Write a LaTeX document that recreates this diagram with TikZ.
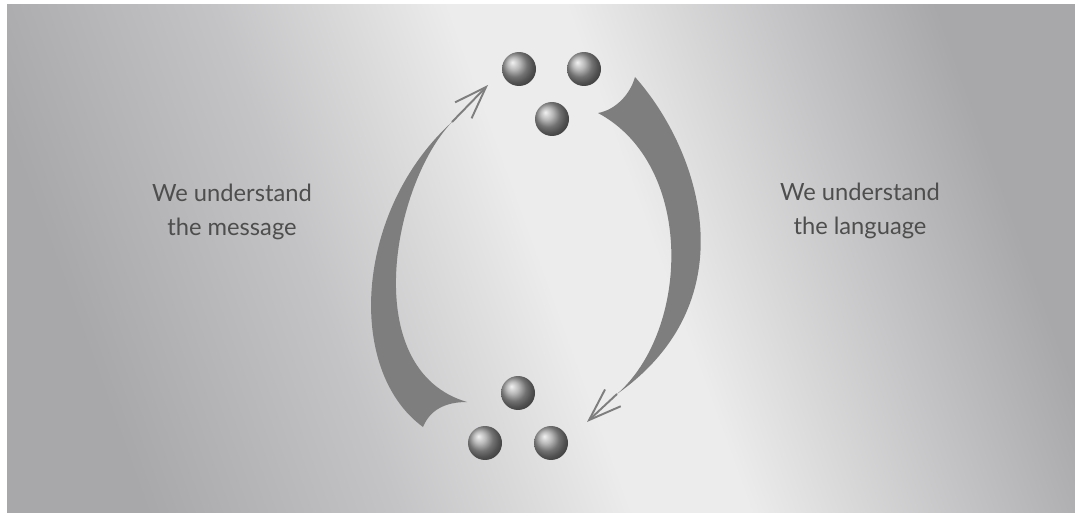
\documentclass[tikz,border=0pt]{standalone}
\usepackage{fontspec}
\setmainfont{Lato}
\usetikzlibrary{arrows.meta,positioning}
\definecolor{paneldark}{HTML}{A8A8AA}
\definecolor{panelmid}{HTML}{C4C4C6}
\definecolor{panellight}{HTML}{ECECEC}
\definecolor{arrowgray}{HTML}{7E7E7E}
\definecolor{textmain}{HTML}{4E4E4E}
\definecolor{ballgray}{HTML}{A2A2A2}
\pgfdeclarehorizontalshading{panelglow}{100bp}{color(0bp)=(paneldark); color(25bp)=(paneldark);
  color(38bp)=(panelmid); color(50bp)=(panellight); color(56bp)=(panellight);
  color(67bp)=(panelmid); color(75bp)=(paneldark); color(100bp)=(paneldark)}

\begin{document}
\begin{tikzpicture}[x=0.02cm,y=-0.02cm,
    sphere/.style={circle,shading=ball,ball color=ballgray,minimum size=0.68cm,inner sep=0pt},
    msgtext/.style={align=center,text=textmain,font=\fontsize{13.5}{19.4}\selectfont},
    crescent/.style={fill=arrowgray,draw=none},
    shaft/.style={draw=arrowgray,line width=1.1pt,-{Straight Barb[length=6.5mm,width=4.6mm,line width=1.1pt]}}
  ]
  \useasboundingbox (0,0) rectangle (1075,513);
  \fill[white] (0,0) rectangle (1075,513);
  \shade[shading=panelglow,shading angle=20] (7,5) rectangle (1075,513);

  % the two groups of balls
  \node[sphere] (t1) at (519,69) {};
  \node[sphere] (t2) at (584,69) {};
  \node[sphere] (t3) at (552,119) {};
  \node[sphere] (b1) at (518,393) {};
  \node[sphere] (b2) at (485,443) {};
  \node[sphere] (b3) at (551,443) {};

  % labels
  \node[msgtext] (message) at (232,212) {We understand\\the message};
  \node[msgtext] (language) at (860,211) {We understand\\the language};

  % left arrow, bottom group up to top group
  \coordinate (uptip) at (488,85);
  \coordinate (upneck) at (452,122);
  \fill[crescent] (423,427) .. controls (345,370) and (355,210) .. (upneck)
    .. controls (392,185) and (358,370) .. (467,402)
    .. controls (445,402) and (430,410) .. (423,427) -- cycle;
  \draw[shaft] (upneck) -- (uptip);

  % right arrow, top group down to bottom group
  \coordinate (downtip) at (587,422);
  \coordinate (downneck) at (617,394);
  \fill[crescent] (635,77) .. controls (700,150) and (750,300) .. (downneck)
    .. controls (690,330) and (695,165) .. (598,113)
    .. controls (615,110) and (630,95) .. (635,77) -- cycle;
  \draw[shaft] (downneck) -- (downtip);
\end{tikzpicture}
\end{document}
